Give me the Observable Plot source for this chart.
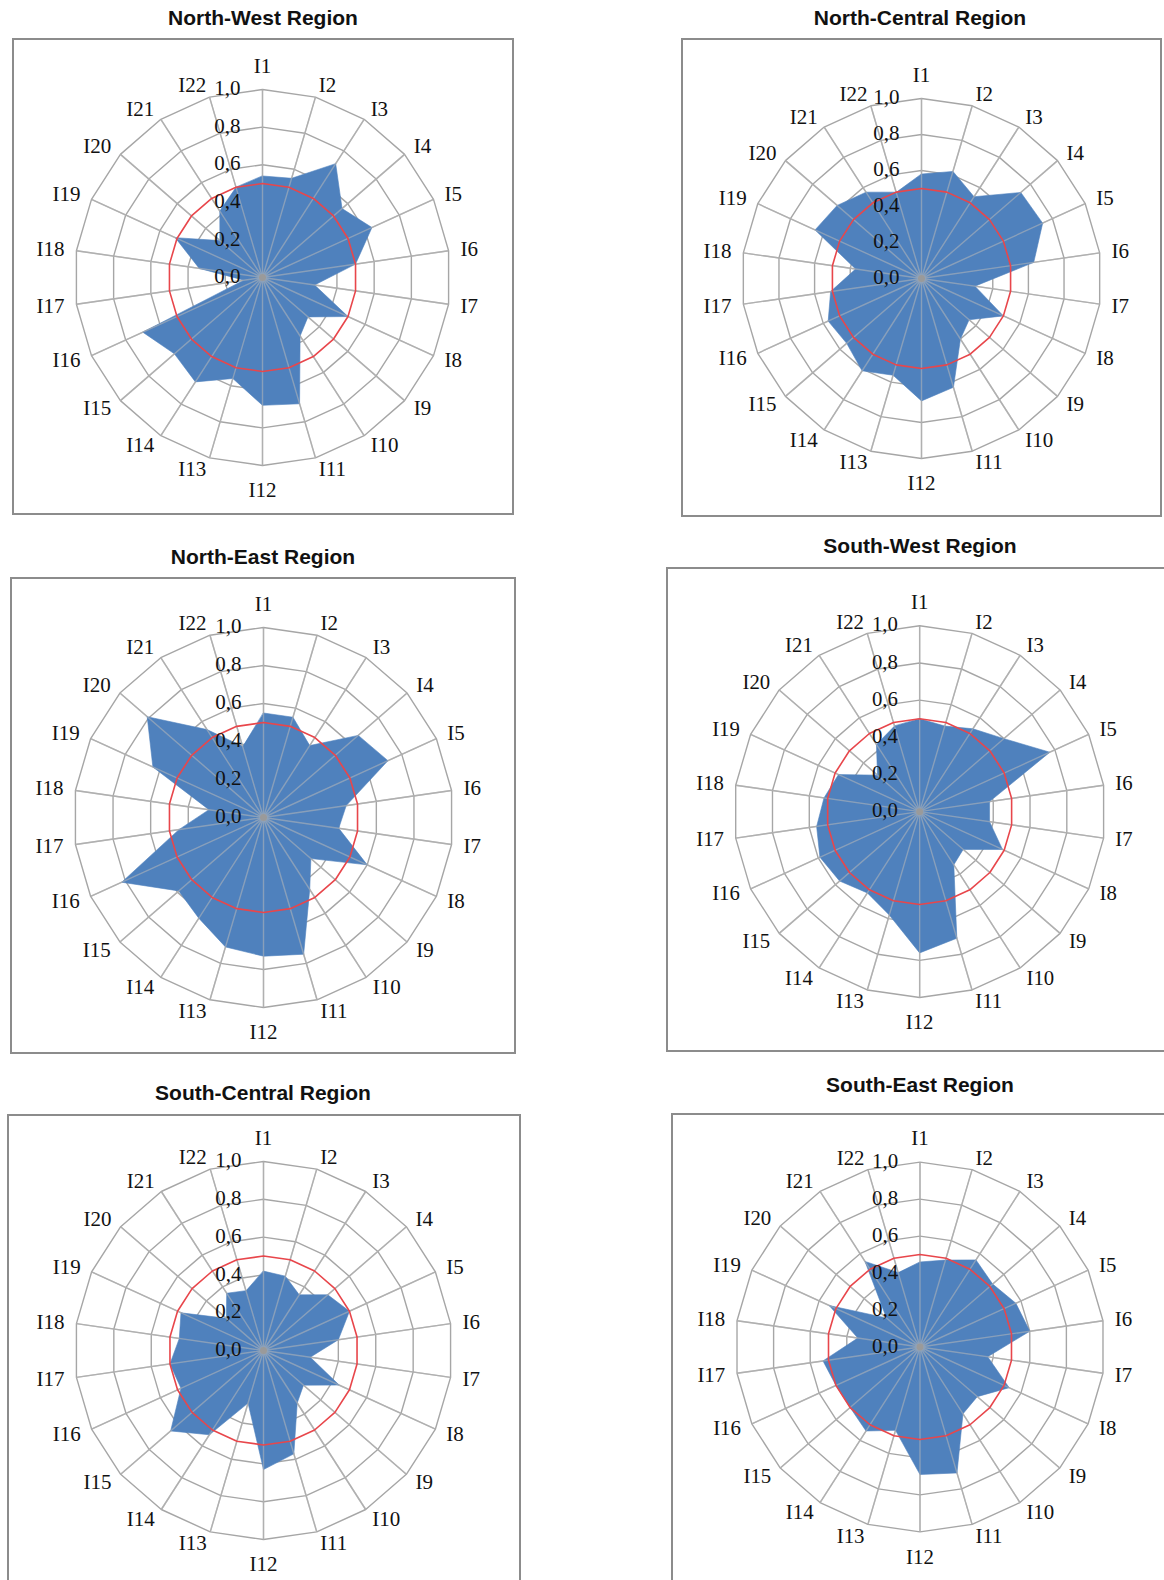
<!DOCTYPE html>
<html><head><meta charset="utf-8">
<script src="https://cdn.jsdelivr.net/npm/d3@7"></script>
<script src="https://cdn.jsdelivr.net/npm/@observablehq/plot@0.6"></script>
<style>
html,body{margin:0;padding:0;background:#fff;}
#page{position:relative;width:1164px;height:1580px;overflow:hidden;background:#fff;}
.box{position:absolute;border:2px solid #8c8c8c;box-sizing:border-box;}
.title{position:absolute;font-family:"Liberation Sans",Arial,sans-serif;font-weight:bold;font-size:21px;color:#111;transform:translate(-50%,-50%);white-space:nowrap;}
.radar{position:absolute;}
</style></head><body><div id="page"></div>
<script>
// ---- data ----
const indicators = ["I1","I2","I3","I4","I5","I6","I7","I8","I9","I10","I11","I12","I13","I14","I15","I16","I17","I18","I19","I20","I21","I22"];
const tickValues = [0, 0.2, 0.4, 0.6, 0.8, 1.0];
const tickLabels = ["0,0","0,2","0,4","0,6","0,8","1,0"];
const thresholdValue = 0.5;
const regionTitles = ["North-West Region","North-Central Region","North-East Region","South-West Region","South-Central Region","South-East Region"];

const northWest    = [0.54,0.55,0.72,0.56,0.64,0.50,0.28,0.50,0.32,0.37,0.70,0.68,0.56,0.66,0.62,0.70,0.10,0.34,0.51,0.30,0.42,0.50];
const northCentral = [0.58,0.62,0.54,0.73,0.74,0.63,0.30,0.50,0.35,0.40,0.63,0.68,0.56,0.61,0.55,0.57,0.51,0.37,0.65,0.62,0.57,0.50];
const northEast    = [0.55,0.55,0.45,0.66,0.72,0.44,0.40,0.60,0.33,0.45,0.75,0.73,0.71,0.63,0.59,0.82,0.45,0.29,0.64,0.81,0.55,0.39];
const southWest    = [0.50,0.48,0.53,0.60,0.77,0.38,0.38,0.49,0.31,0.34,0.71,0.76,0.58,0.52,0.57,0.59,0.56,0.52,0.48,0.30,0.43,0.48];
const southCentral = [0.42,0.41,0.35,0.45,0.50,0.40,0.25,0.44,0.28,0.33,0.57,0.63,0.29,0.53,0.65,0.48,0.50,0.45,0.48,0.26,0.36,0.33];
const southEast    = [0.46,0.49,0.56,0.52,0.57,0.60,0.37,0.53,0.41,0.43,0.71,0.69,0.47,0.54,0.50,0.50,0.53,0.34,0.54,0.24,0.55,0.42];

// ---- layout ----
const layout = [
  {cx:261.7, cy:276.7, R:188, box:[12,38,502,477],  tx:263, ty:18},
  {cx:921,   cy:277.5, R:180, box:[681,38,481,479], tx:920, ty:18},
  {cx:263,   cy:816.5, R:190, box:[10,577,506,477], tx:263, ty:557},
  {cx:921.7, cy:814,   R:188, box:[666,567,510,485],tx:920, ty:546},
  {cx:263.3, cy:1350,  R:189, box:[7,1114,514,480], tx:263, ty:1093},
  {cx:921,   cy:1348,  R:186, box:[671,1113,510,480],tx:920, ty:1085}
];
const seriesList = [northWest, northCentral, northEast, southWest, southCentral, southEast];

const page = document.getElementById("page");
const n = indicators.length;
const ang = indicators.map((_, k) => 2 * Math.PI * k / n);
const pt = (v, k) => ({x: v * Math.sin(ang[k]), y: v * Math.cos(ang[k])});
const labelFont = {fontSize: 21, fontFamily: "Liberation Serif", fill: "#111"};

seriesList.forEach((values, i) => {
  const L = layout[i];
  const box = document.createElement("div");
  box.className = "box";
  box.style.left = L.box[0] + "px"; box.style.top = L.box[1] + "px";
  box.style.width = L.box[2] + "px"; box.style.height = L.box[3] + "px";
  page.appendChild(box);

  const t = document.createElement("div");
  t.className = "title";
  t.textContent = regionTitles[i];
  t.style.left = L.tx + "px"; t.style.top = L.ty + "px";
  page.appendChild(t);

  const S = 2 * (L.R + 60);
  const h = S / 2 / L.R;
  const rings = tickValues.filter(v => v > 0).flatMap(v => indicators.map((_, k) => ({level: v, ...pt(v, k)})));
  const spokes = indicators.map((name, k) => ({name, ...pt(1, k)}));
  const series = values.map((v, k) => ({name: indicators[k], value: v, ...pt(v, k)}));
  const threshold = indicators.map((_, k) => pt(thresholdValue, k));
  const labelR = (L.R + 12) / L.R;
  const labels = indicators.map((name, k) => ({name, k, ...pt(labelR, k)}));
  const ticks = tickValues.map((v, j) => ({label: tickLabels[j], x: 0, y: v}));
  const half = n / 2;

  const chart = Plot.plot({
    width: S, height: S, margin: 0,
    x: {domain: [-h, h], axis: null},
    y: {domain: [-h, h], axis: null},
    style: {background: "transparent", overflow: "visible"},
    marks: [
      Plot.line(rings, {x: "x", y: "y", z: "level", curve: "linear-closed", stroke: "#a6a6a6", strokeWidth: 1.4}),
      Plot.link(spokes, {x1: () => 0, y1: () => 0, x2: "x", y2: "y", stroke: "#a6a6a6", strokeWidth: 1.4}),
      Plot.line(series, {x: "x", y: "y", curve: "linear-closed", fill: "#4f81bd", stroke: "#4f81bd", strokeWidth: 0.6}),
      Plot.link(spokes, {x1: () => 0, y1: () => 0, x2: "x", y2: "y", stroke: "#b8b8b8", strokeOpacity: 0.55, strokeWidth: 1.4}),
      Plot.line(threshold, {x: "x", y: "y", curve: "linear-closed", stroke: "#e8464b", strokeWidth: 1.6}),
      Plot.dot([{x: 0, y: 0}], {x: "x", y: "y", r: 3.5, fill: "#9a9a9a", stroke: "none"}),
      Plot.text(ticks, {x: "x", y: "y", text: "label", textAnchor: "end", dx: -22, dy: -1, ...labelFont}),
      Plot.text(labels.filter(d => d.k === 0), {x: "x", y: "y", text: "name", lineAnchor: "bottom", dy: -5, ...labelFont}),
      Plot.text(labels.filter(d => d.k === half), {x: "x", y: "y", text: "name", lineAnchor: "top", dy: 5, ...labelFont}),
      Plot.text(labels.filter(d => d.k > 0 && d.k < half), {x: "x", y: "y", text: "name", textAnchor: "start", ...labelFont}),
      Plot.text(labels.filter(d => d.k > half), {x: "x", y: "y", text: "name", textAnchor: "end", ...labelFont})
    ]
  });
  const wrap = document.createElement("div");
  wrap.className = "radar";
  wrap.style.left = (L.cx - S / 2) + "px";
  wrap.style.top = (L.cy - S / 2) + "px";
  wrap.appendChild(chart);
  page.appendChild(wrap);
});
</script></body></html>
